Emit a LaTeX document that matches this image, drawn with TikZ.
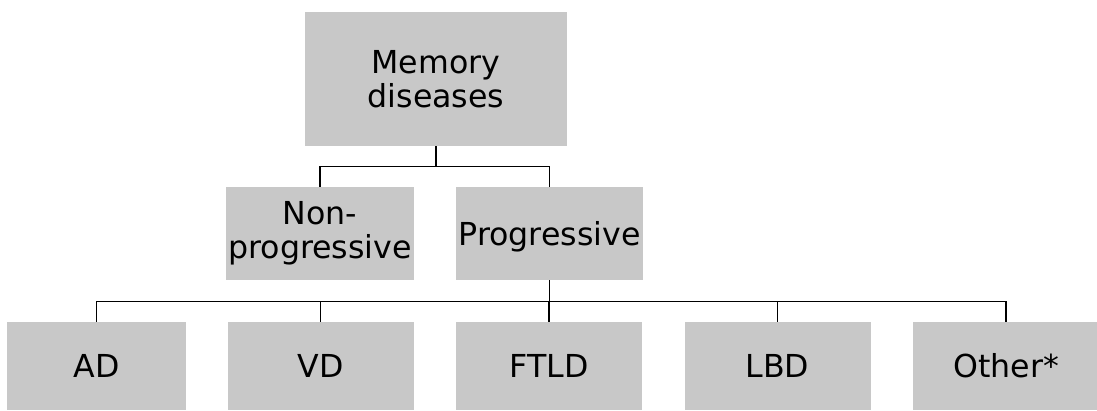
\documentclass[tikz,border=0pt]{standalone}
\usepackage{fontspec}
\setmainfont{DejaVu Sans}
\usepackage{tikz}
\usepackage{xcolor}
\definecolor{boxgray}{RGB}{200,200,200}

\tikzset{
  disbox/.style={rectangle,fill=boxgray,inner sep=0pt,align=center,
    font=\fontsize{22.5}{24.5}\selectfont},
  oneline/.style={disbox,text height=16.4pt,text depth=0pt},
  link/.style={line width=0.8pt,black}
}

\begin{document}
\begin{tikzpicture}[x=0.025cm,y=-0.025cm]
      \useasboundingbox (0,0) rectangle (1097,410);

      \node [disbox,minimum width=262*0.025cm,minimum height=134*0.025cm] (mem) at (436, 79) {Memory\\diseases};

      \node [disbox,minimum width=188*0.025cm,minimum height=93*0.025cm] (nonprog) at (320, 233.5) {Non-\\progressive};
      \node [oneline,minimum width=187*0.025cm,minimum height=93*0.025cm] (prog) at (549.5, 233.5) {Progressive};

      \node [oneline,minimum width=179*0.025cm,minimum height=88*0.025cm] (ad) at (96.5, 366) {AD};
      \foreach \name/\txt [count=\i] in {vd/VD,ftld/FTLD,lbd/LBD,other/Other*}
        \node [oneline,minimum width=186*0.025cm,minimum height=88*0.025cm] (\name) at (92+228.5*\i, 366) {\txt};

      \draw [link] (mem.south) -- ++(0,20) -| (nonprog.north);
      \draw [link] (mem.south) -- ++(0,20) -| (prog.north);

      \foreach \name in {ad,vd,ftld,lbd,other}
        \draw [link] (prog.south) -- ++(0,21) -| (\name.north);
    \end{tikzpicture}
\end{document}
